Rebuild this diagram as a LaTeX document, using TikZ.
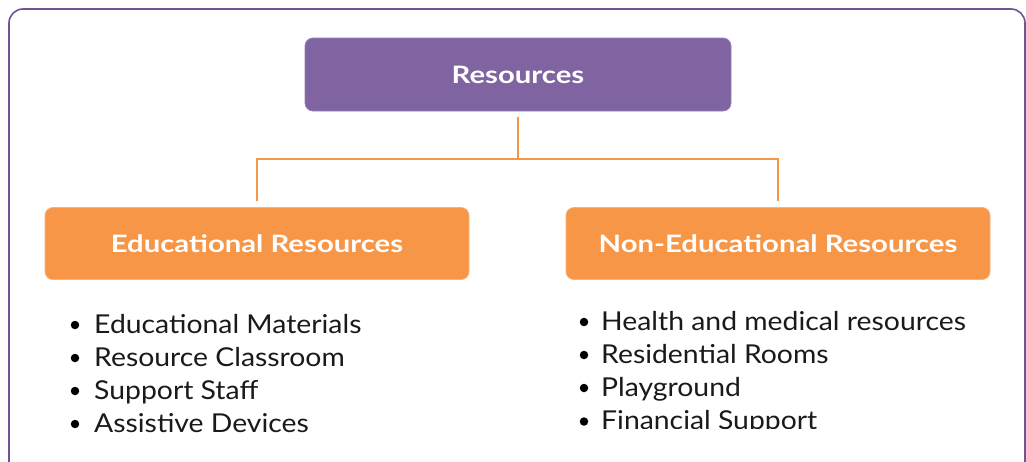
\documentclass[tikz,border=0pt]{standalone}
\usepackage{fontspec}
\setmainfont{Lato}
\newfontfamily\itemfont[FakeStretch=1.09]{Lato}
\newfontfamily\headfont[FakeStretch=1.22]{Lato}
\definecolor{framepurple}{HTML}{6E5592}
\definecolor{rootpurple}{HTML}{8064A2}
\definecolor{orangefill}{HTML}{F79646}
\definecolor{orangeedge}{HTML}{FAB07A}
\definecolor{textdark}{HTML}{1A1A1A}
\tikzset{
  rootbox/.style={fill=rootpurple, draw=rootpurple!80!white, line width=0.8pt, rounded corners=8pt,
    minimum width=426pt, minimum height=73pt, inner sep=0pt, text=white,
    font=\headfont\fontsize{24}{28}\selectfont\bfseries},
  catbox/.style={fill=orangefill, draw=orangeedge, line width=0.8pt, rounded corners=8pt,
    minimum width=424pt, minimum height=72pt, inner sep=0pt, text=white,
    font=\headfont\fontsize{24}{28}\selectfont\bfseries},
  link/.style={draw=orangefill, line width=1.8pt},
  item/.style={anchor=base west, inner sep=0pt, text=textdark, font=\itemfont\fontsize{26}{30}\selectfont},
  dot/.style={circle, fill=black, inner sep=0pt, minimum size=8.5pt},
}
\begin{document}
\begin{tikzpicture}[x=1pt,y=-1pt]
\useasboundingbox (0,0) rectangle (1026,461);
\begin{scope}
\clip (0,0) rectangle (1026,461);
% soft shadow
\foreach \d/\o in {1/24,2/17,3/11,4/7,5/4}{
  \draw[black!\o!white, line width=1pt, rounded corners=14pt] (9+\d*0.3,9+\d) rectangle (1025-\d*0.3,480);
}
\fill[white, rounded corners=14pt] (9,9) rectangle (1025,480);
\draw[framepurple, line width=1.6pt, rounded corners=14pt] (9,9) rectangle (1025,480);
\end{scope}

\node[rootbox] (root) at (518,74.5) {Resources};
\node[catbox] (edu) at (257,243.5) {Educational Resources};
\node[catbox] (nonedu) at (778,243.5) {Non-Educational Resources};

\coordinate (split) at (518,159);
\coordinate (eduTop) at (257,201);
\coordinate (nonTop) at (778,201);
\draw[link] ([yshift=-6pt]root.south) -- (split);
\draw[link] (eduTop) |- (split) -| (nonTop);

\begin{scope}
\clip (0,0) rectangle (1026,440);
\node[item] (e1) at (94,333) {Educational Materials};
\node[item] (e2) at (94,366) {Resource Classroom};
\node[item] (e3) at (94,399) {Support Staff};
\node[item] (e4) at (94,432) {Assistive Devices};
\foreach \n in {e1,e2,e3,e4}{\node[dot] at ([xshift=-19pt,yshift=8pt]\n.base west) {};}
\end{scope}
\begin{scope}
\clip (0,0) rectangle (1026,428.5);
\node[item] (n1) at (601,330) {Health and medical resources};
\node[item] (n2) at (601,363) {Residential Rooms};
\node[item] (n3) at (601,396) {Playground};
\node[item] (n4) at (601,429.5) {Financial Support};
\foreach \n in {n1,n2,n3,n4}{\node[dot] at ([xshift=-17pt,yshift=8pt]\n.base west) {};}
\end{scope}
\end{tikzpicture}
\end{document}
